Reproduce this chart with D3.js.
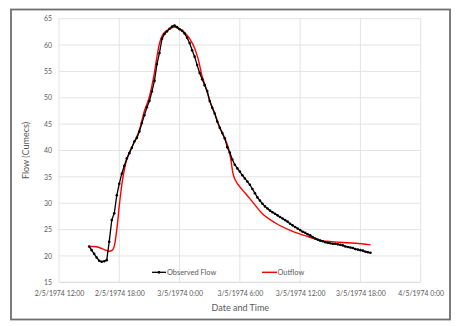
<!DOCTYPE html>
<html>
<head>
<meta charset="utf-8">
<script src="https://cdn.jsdelivr.net/npm/d3@7/dist/d3.min.js"></script>
<style>
  html, body { margin: 0; padding: 0; background: #fff; }
  svg { display: block; font-family: Lato, "Open Sans", sans-serif; }
</style>
</head>
<body>
<svg id="chart" width="458" height="326"></svg>
<script>
// Observed flow, sampled every 15 minutes from 2/5/1974 15:00 (Cumecs)
const observedStart = Date.UTC(1974, 4, 2, 15, 0);
const observedStepMinutes = 15;
const observedFlow = [
  21.8, 21.1, 20.4, 19.7, 19.1, 18.9, 19.0, 19.2, 22.7, 26.8, 28.1, 31.5,
  33.7, 35.6, 37.1, 38.5, 39.5, 40.5, 41.7, 42.4, 43.6, 45.2, 46.7, 48.2,
  49.4, 51.2, 53.2, 56.4, 58.5, 61.2, 62.1, 62.6, 63.1, 63.5, 63.7, 63.4,
  63.0, 62.7, 62.2, 61.4, 60.4, 59.0, 57.8, 56.2, 54.7, 53.5, 52.4, 51.3,
  49.4, 48.1, 47.0, 45.5, 44.3, 43.3, 42.3, 40.6, 39.6, 38.3, 37.3, 36.6,
  36.0, 35.3, 34.7, 34.1, 33.5, 32.7, 31.9, 31.1, 30.5, 29.9, 29.4, 29.0,
  28.6, 28.3, 28.0, 27.7, 27.4, 27.1, 26.8, 26.5, 26.1, 25.8, 25.5, 25.2,
  24.9, 24.6, 24.4, 24.1, 23.9, 23.6, 23.3, 23.1, 22.9, 22.8, 22.6, 22.5,
  22.4, 22.3, 22.3, 22.2, 22.1, 22.0, 21.8, 21.7, 21.6, 21.5, 21.3, 21.2,
  21.1, 21.0, 20.8, 20.7, 20.6
];

// Routed outflow: hours after 2/5/1974 12:00 and flow (Cumecs)
const outflowHours = [
  3.0, 3.5, 4.0, 4.5, 5.0, 5.3, 5.55, 5.8, 6.0, 6.25, 6.6, 7.0, 7.5, 8.0,
  8.5, 9.0, 9.5, 9.75, 10.0, 10.25, 10.5, 11.0, 11.5, 12.0, 12.5, 13.0,
  13.5, 13.9, 14.2, 14.5, 15.0, 15.5, 16.0, 16.5, 16.9, 17.1, 17.3, 17.6,
  18.0, 18.5, 19.2, 20.2, 21.5, 23.2, 24.9, 25.9, 27.9, 29.5, 31.0
];
const outflowFlow = [
  21.8, 21.8, 21.6, 21.2, 20.9, 21.1, 22.3, 25.8, 29.5, 33.5, 37.3, 39.6,
  41.6, 43.9, 47.5, 50.2, 54.8, 57.8, 60.3, 61.7, 62.4, 63.0, 63.4, 63.1,
  62.4, 61.2, 59.4, 57.0, 54.4, 52.6, 49.5, 47.0, 44.4, 42.3, 40.2, 38.3,
  35.8, 34.2, 33.1, 32.0, 30.4, 28.1, 26.3, 24.7, 23.6, 23.0, 22.6, 22.4,
  22.1
];

// Axis ticks
const timeOrigin = Date.UTC(1974, 4, 2, 12, 0);
const xTickHours = [0, 6, 12, 18, 24, 30, 36];
const yTicks = [15, 20, 25, 30, 35, 40, 45, 50, 55, 60, 65];
const seriesNames = ["Observed Flow", "Outflow"];
const xTitle = "Date and Time";
const yTitle = "Flow (Cumecs)";

const HOUR = 3600 * 1000;
const observed = observedFlow.map((v, i) => ({
  t: new Date(observedStart + i * observedStepMinutes * 60 * 1000), v
}));
const outflow = outflowHours.map((h, i) => ({
  t: new Date(timeOrigin + h * HOUR), v: outflowFlow[i]
}));
const xTicks = xTickHours.map(h => new Date(timeOrigin + h * HOUR));

const svg = d3.select("#chart");
const plot = { left: 59, right: 420.7, top: 18.7, bottom: 282.3 };

// Chart frame
svg.append("rect")
  .attr("x", 11).attr("y", 9.5).attr("width", 439).attr("height", 310)
  .attr("fill", "#fff").attr("stroke", "#6f6f6f").attr("stroke-width", 1.8);

const x = d3.scaleUtc()
  .domain([xTicks[0], xTicks[xTicks.length - 1]])
  .range([plot.left, plot.right]);
const y = d3.scaleLinear().domain([15, 65]).range([plot.bottom, plot.top]);

const fmt = d => {
  const m = d.getUTCMinutes();
  return `${d.getUTCDate()}/${d.getUTCMonth() + 1}/${d.getUTCFullYear()} ${d.getUTCHours()}:${m < 10 ? "0" + m : m}`;
};

// Gridlines
const grid = svg.append("g");
grid.selectAll("line.h").data(yTicks).join("line")
  .attr("x1", plot.left).attr("x2", plot.right)
  .attr("y1", d => y(d)).attr("y2", d => y(d))
  .attr("stroke", d => d === 15 ? "#d6d6d6" : "#e3e3e3").attr("stroke-width", 1);
grid.selectAll("line.v").data(xTicks).join("line")
  .attr("y1", plot.top).attr("y2", plot.bottom)
  .attr("x1", d => x(d)).attr("x2", d => x(d))
  .attr("stroke", "#e3e3e3").attr("stroke-width", 1);

// Axes (labels only; lines come from the grid)
const xAxis = svg.append("g")
  .attr("transform", `translate(0,${plot.bottom})`)
  .call(d3.axisBottom(x).tickValues(xTicks).tickFormat(fmt).tickSize(0).tickPadding(9));
const yAxis = svg.append("g")
  .attr("transform", `translate(${plot.left},0)`)
  .call(d3.axisLeft(y).tickValues(yTicks).tickSize(0).tickPadding(7));
[xAxis, yAxis].forEach(a => {
  a.select(".domain").remove();
  a.selectAll("text").attr("fill", "#595959").style("font-size", "6.9px")
    .style("font-family", "Lato, sans-serif");
});

// Axis titles
svg.append("text")
  .attr("x", (plot.left + plot.right) / 2 + 0.5).attr("y", 311)
  .attr("text-anchor", "middle").attr("fill", "#595959")
  .style("font-size", "9px").text(xTitle);
svg.append("text")
  .attr("transform", `translate(28.5,${(plot.top + plot.bottom) / 2}) rotate(-90)`)
  .attr("text-anchor", "middle").attr("fill", "#595959")
  .style("font-size", "9px").text(yTitle);

// Outflow line (smoothed)
svg.append("path").datum(outflow)
  .attr("fill", "none").attr("stroke", "#ff0000").attr("stroke-width", 1.4)
  .attr("d", d3.line().x(d => x(d.t)).y(d => y(d.v)).curve(d3.curveMonotoneX));

// Observed flow line with markers
svg.append("path").datum(observed)
  .attr("fill", "none").attr("stroke", "#000").attr("stroke-width", 1.3)
  .attr("d", d3.line().x(d => x(d.t)).y(d => y(d.v)));
svg.append("g").selectAll("circle").data(observed).join("circle")
  .attr("cx", d => x(d.t)).attr("cy", d => y(d.v)).attr("r", 1.3)
  .attr("fill", "#000");

// Legend
const legend = svg.append("g").style("font-size", "7.4px");
const ly = 272.3;
legend.append("line").attr("x1", 152).attr("x2", 166).attr("y1", ly).attr("y2", ly)
  .attr("stroke", "#000").attr("stroke-width", 1.3);
legend.append("circle").attr("cx", 159).attr("cy", ly).attr("r", 1.4).attr("fill", "#000");
legend.append("text").attr("x", 167).attr("y", ly).attr("dy", "0.35em")
  .attr("fill", "#595959").text(seriesNames[0]);
legend.append("line").attr("x1", 262).attr("x2", 277).attr("y1", ly).attr("y2", ly)
  .attr("stroke", "#ff0000").attr("stroke-width", 1.4);
legend.append("text").attr("x", 277.5).attr("y", ly).attr("dy", "0.35em")
  .attr("fill", "#595959").text(seriesNames[1]);
</script>
</body>
</html>
